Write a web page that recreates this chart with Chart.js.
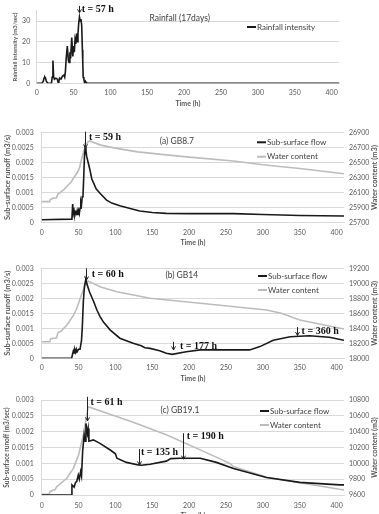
<!DOCTYPE html>
<html>
<head>
<meta charset="utf-8">
<script src="https://cdn.jsdelivr.net/npm/chart.js@4"></script>
<style>
  html, body { margin: 0; padding: 0; background: #fff; }
  body { width: 379px; height: 514px; overflow: hidden; position: relative; }
  canvas { position: absolute; left: 0; }
</style>
</head>
<body>
<canvas id="rain" width="379" height="112" style="top:0"></canvas>
<canvas id="gb87" width="379" height="136" style="top:112px"></canvas>
<canvas id="gb14" width="379" height="136" style="top:248px"></canvas>
<canvas id="gb191" width="379" height="140" style="top:382px"></canvas>
<script>
// rainfall (17 days)
const rainHours = [0, 7, 9, 10, 11, 12, 13, 15, 20, 21, 22, 23, 24, 26, 28, 29, 30, 31, 33, 35, 37, 38, 39, 40, 41.5, 43, 44, 45, 46, 47.5, 49, 50, 51, 52, 53, 54, 55, 56, 57, 58, 59, 60, 61, 62, 62.5, 63, 64, 65, 66, 67, 68, 410];
const rainIntensity = [0, 0, 1, 2.5, 3, 2.5, 1, 0, 0, 3, 11, 3, 2, 2.5, 2, 0.5, 1, 2.5, 2, 3.5, 4, 3, 6, 12, 18, 11, 10, 15, 12, 22, 13, 18, 15, 21, 19, 24, 20, 24, 29, 32, 30, 31, 28, 16, 10, 3, 2, 0, 1, 0.5, 0, 0];

// (a) GB8.7
const gb87FlowHours = [0, 40, 41, 42, 43, 44, 45, 46, 47, 48, 49, 50, 51, 52, 53, 54, 55, 56, 57, 58, 59, 60, 61, 62, 65, 68, 74, 80, 88, 95, 106, 120, 133, 150, 169, 200, 260, 300, 350, 410];
const gb87Flow = [0.0001, 0.00012, 0.00015, 0.00062, 0.0003, 0.0004, 0.00025, 0.00035, 0.0003, 0.0004, 0.00025, 0.0004, 0.0003, 0.00048, 0.0007, 0.0006, 0.00086, 0.0009, 0.0015, 0.0022, 0.0025, 0.0024, 0.0022, 0.0021, 0.0018, 0.00145, 0.00112, 0.00095, 0.00075, 0.00065, 0.00056, 0.00047, 0.00039, 0.00034, 0.00031, 0.0003, 0.0003, 0.00027, 0.00024, 0.00022];
const gb87WaterHours = [0, 10, 11, 14, 20, 22, 25, 30, 34, 40, 43, 48, 51, 54, 57, 60, 63, 65, 80, 100, 130, 169, 200, 260, 300, 350, 410];
const gb87Water = [25980, 25980, 26000, 26020, 26030, 26080, 26100, 26140, 26180, 26240, 26290, 26360, 26420, 26540, 26650, 26730, 26775, 26785, 26730, 26690, 26640, 26600, 26570, 26520, 26470, 26420, 26350];

// (b) GB14
const gb14FlowHours = [0, 40.6, 42, 43, 44, 45, 46, 47, 48, 50, 52, 54, 55, 56.5, 58, 60, 61, 65, 70, 75, 79, 84, 93, 106, 124, 135, 140, 147, 160, 169, 177, 196, 215, 282, 296, 314, 337, 363, 390, 410];
const gb14Flow = [0, 0, 0.00015, 0.00025, 0.00018, 0.00028, 0.0002, 0.0003, 0.00022, 0.0003, 0.0003, 0.0006, 0.001, 0.0019, 0.0024, 0.00265, 0.0025, 0.0022, 0.00192, 0.0016, 0.0014, 0.0012, 0.00094, 0.00067, 0.0005, 0.00042, 0.00035, 0.00033, 0.00025, 0.00017, 0.00013, 0.00022, 0.00028, 0.00028, 0.00039, 0.0006, 0.00072, 0.00075, 0.0007, 0.0006];
const gb14WaterHours = [0, 11, 12, 20, 22, 26, 34, 43, 47, 52, 56, 61, 63, 80, 102, 147, 215, 305, 325, 350, 410];
const gb14Water = [18220, 18220, 18260, 18270, 18340, 18360, 18440, 18573, 18650, 18795, 18900, 19017, 19030, 18950, 18888, 18800, 18733, 18644, 18600, 18511, 18390];

// (c) GB19.1
const gb191FlowHours = [0, 40.6, 41, 42, 44, 46, 47.4, 49.6, 51, 52.8, 54, 55.5, 57.6, 59, 60, 61, 62, 63, 64, 70, 79, 93, 100, 102, 115, 131, 135, 147, 169, 175, 188, 215, 237, 260, 305, 350, 404, 410];
const gb191Flow = [0, 0, 0.00032, 0.0003, 0.00025, 0.0004, 0.00042, 0.00063, 0.0005, 0.00074, 0.0006, 0.00137, 0.0019, 0.0017, 0.00226, 0.0021, 0.00195, 0.0021, 0.0017, 0.00174, 0.00163, 0.00142, 0.0013, 0.00116, 0.00103, 0.00095, 0.00094, 0.00097, 0.00107, 0.00115, 0.00116, 0.00116, 0.00103, 0.00084, 0.00055, 0.0004, 0.00032, 0.00032];
const gb191WaterHours = [0, 10, 11.3, 15, 18, 20.3, 25, 34, 43, 50, 56.5, 60, 63, 80, 124, 169, 215, 255, 260, 305, 350, 404, 410];
const gb191Water = [9610, 9610, 9642, 9660, 9665, 9705, 9740, 9811, 9937, 10105, 10358, 10550, 10715, 10660, 10520, 10360, 10170, 10000, 9960, 9825, 9755, 9672, 9665];

Chart.defaults.font.family = 'Lato, "Liberation Sans", sans-serif';
Chart.defaults.color = '#595959';

const ink = '#1a1a1a';
const ash = '#bcbcbc';
const gridCol = '#d9d9d9';
const noteFont = 'bold 10px "Liberation Serif", serif';
const labelFont = '8.5px Lato, "Liberation Sans", sans-serif';

const pts = (xs, ys) => xs.map((x, i) => ({ x, y: ys[i] }));
const fixW = w => s => { s.width = w; };
const fixH = h => s => { s.height = h; };

// arrows, free text and the rotated right-hand title, placed in data units
const notes = {
  id: 'notes',
  afterDraw(chart, args, opts) {
    const ctx = chart.ctx, xs = chart.scales.x, ys = chart.scales.y;
    ctx.save();
    (opts.arrows || []).forEach(a => {
      const px = Math.round(xs.getPixelForValue(a.h)) + 0.5;
      const y1 = ys.getPixelForValue(a.from), y2 = ys.getPixelForValue(a.to);
      ctx.strokeStyle = '#222';
      ctx.lineWidth = 1;
      ctx.beginPath();
      ctx.moveTo(px, y1);
      ctx.lineTo(px, y2);
      ctx.moveTo(px - 2, y2 - 3.5);
      ctx.lineTo(px, y2);
      ctx.lineTo(px + 2, y2 - 3.5);
      ctx.stroke();
    });
    (opts.labels || []).forEach(l => {
      ctx.font = l.font || noteFont;
      ctx.fillStyle = l.color || '#111';
      ctx.textAlign = l.align || 'left';
      ctx.textBaseline = 'middle';
      ctx.fillText(l.text, xs.getPixelForValue(l.h), ys.getPixelForValue(l.v));
    });
    if (opts.side) {
      const a = chart.chartArea;
      ctx.translate(opts.side.x, (a.top + a.bottom) / 2);
      ctx.rotate(-Math.PI / 2);
      ctx.font = 'bold ' + opts.side.size + 'px Lato, "Liberation Sans", sans-serif';
      ctx.fillStyle = '#595959';
      ctx.textAlign = 'center';
      ctx.textBaseline = 'middle';
      ctx.fillText(opts.side.text, 0, 0);
    }
    ctx.restore();
  }
};

// Excel-like legend: short line then label
const lineKey = {
  id: 'lineKey',
  afterDraw(chart, args, opts) {
    if (opts.x === undefined) return;
    const ctx = chart.ctx;
    ctx.save();
    chart.data.datasets.forEach((ds, i) => {
      const y = opts.y + i * (opts.gap || 0);
      ctx.strokeStyle = ds.borderColor;
      ctx.lineWidth = 2;
      ctx.beginPath();
      ctx.moveTo(opts.x, y);
      ctx.lineTo(opts.x + 9, y);
      ctx.stroke();
      ctx.font = '8px Lato, "Liberation Sans", sans-serif';
      ctx.fillStyle = '#404040';
      ctx.textBaseline = 'middle';
      ctx.fillText(ds.label, opts.x + 10, y);
    });
    ctx.restore();
  }
};

Chart.register(notes, lineKey);

function timeAxis(height, tickPad, titlePad) {
  return {
    type: 'linear', min: 0, max: 410,
    ticks: { stepSize: 50, includeBounds: false, padding: tickPad, font: { size: 7 }, maxRotation: 0, callback: v => String(v) },
    grid: { display: false, drawTicks: false },
    border: { display: true, color: gridCol },
    title: { display: true, text: 'Time (h)', font: { size: 7, weight: 'bold' }, padding: { top: 0, bottom: titlePad } },
    afterFit: fixH(height)
  };
}

function flowAxis(width, title, titleSize, titlePad) {
  return {
    position: 'left', min: 0, max: 0.003,
    ticks: { stepSize: 0.0005, padding: 8, font: { size: 7 }, callback: v => String(+v.toFixed(4)) },
    grid: { color: gridCol, drawTicks: false },
    border: { color: gridCol },
    title: { display: true, text: title, font: { size: titleSize, weight: 'bold' }, padding: { top: titlePad, bottom: 0 } },
    afterFit: fixW(width)
  };
}

function waterAxis(min, max) {
  return {
    position: 'right', min, max,
    ticks: { stepSize: 200, padding: 5, font: { size: 7 }, callback: v => String(v) },
    grid: { display: false, drawTicks: false },
    border: { display: false },
    afterFit: fixW(35)
  };
}

function flowChart(id, padTop, flowData, waterData, xAxis, yAxis, yRight, noteOpts, keyOpts) {
  return new Chart(document.getElementById(id), {
    type: 'line',
    data: {
      datasets: [
        { label: 'Sub-surface flow', data: flowData, borderColor: ink, borderWidth: 1.6, pointRadius: 0, yAxisID: 'y' },
        { label: 'Water content', data: waterData, borderColor: ash, borderWidth: 1.6, pointRadius: 0, yAxisID: 'y2' }
      ]
    },
    options: {
      responsive: false,
      animation: false,
      layout: { padding: { top: padTop, left: 0, right: 0, bottom: 0 } },
      plugins: { legend: { display: false }, tooltip: { enabled: false }, notes: noteOpts, lineKey: keyOpts },
      scales: { x: xAxis, y: yAxis, y2: yRight }
    }
  });
}

new Chart(document.getElementById('rain'), {
  type: 'line',
  data: {
    datasets: [{ label: 'Rainfall intensity', data: pts(rainHours, rainIntensity), borderColor: ink, borderWidth: 1.6, pointRadius: 0 }]
  },
  options: {
    responsive: false,
    animation: false,
    layout: { padding: { top: 8.3, left: 0, right: 40, bottom: 0 } },
    plugins: {
      legend: { display: false }, tooltip: { enabled: false },
      notes: {
        arrows: [{ h: 57.4, from: 37.3, to: 34 }],
        labels: [
          { h: 61, v: 35.7, text: 't = 57 h' },
          { h: 194, v: 31.4, text: 'Rainfall (17days)', font: labelFont, color: '#404040', align: 'center' }
        ]
      },
      lineKey: { x: 247, y: 27 }
    },
    scales: {
      x: timeAxis(28.7, 5.5, 3.8),
      y: {
        min: 0, max: 35,
        ticks: { stepSize: 5, padding: 6.5, font: { size: 7 } },
        grid: { color: gridCol, drawTicks: false },
        border: { color: gridCol },
        title: { display: true, text: 'Rainfall intensity (m3/sec)', font: { size: 6, weight: 'bold' }, padding: { top: 11.5, bottom: 0 } },
        afterFit: fixW(36.7)
      }
    }
  }
});

flowChart('gb87', 20.3,
  pts(gb87FlowHours, gb87Flow), pts(gb87WaterHours, gb87Water),
  timeAxis(25.3, 6, 0.8),
  flowAxis(41.7, 'Sub-surface runoff (m3/s)', 7.5, 2.8),
  waterAxis(25700, 26900),
  {
    arrows: [{ h: 58.7, from: 0.00302, to: 0.00248 }],
    labels: [
      { h: 64, v: 0.00284, text: 't = 59 h' },
      { h: 183.4, v: 0.00271, text: '(a) GB8.7', font: labelFont, color: '#404040', align: 'center' }
    ],
    side: { x: 375, size: 7.5, text: 'Water content (m3)' }
  },
  { x: 257, y: 30.3, gap: 14.4 });

flowChart('gb14', 20.3,
  pts(gb14FlowHours, gb14Flow), pts(gb14WaterHours, gb14Water),
  timeAxis(25.7, 5.5, 0.8),
  flowAxis(41.7, 'Sub-surface runoff (m3/s)', 7.5, 2.8),
  waterAxis(18000, 19200),
  {
    arrows: [
      { h: 60, from: 0.003, to: 0.00261 },
      { h: 178.4, from: 0.00055, to: 0.00028 },
      { h: 345.8, from: 0.00104, to: 0.00076 }
    ],
    labels: [
      { h: 67.8, v: 0.00278, text: 't = 60 h' },
      { h: 187.5, v: 0.00039, text: 't = 177 h' },
      { h: 352.5, v: 0.00089, text: 't = 360 h' },
      { h: 190, v: 0.00278, text: '(b) GB14', font: labelFont, color: '#404040', align: 'center' }
    ],
    side: { x: 375, size: 7.5, text: 'Water content (m3)' }
  },
  { x: 258, y: 28, gap: 14 });

flowChart('gb191', 18,
  pts(gb191FlowHours, gb191Flow), pts(gb191WaterHours, gb191Water),
  timeAxis(27, 6.3, 2.3),
  flowAxis(41.7, 'Sub-surface runoff (m3/sec)', 6.5, 3.4),
  waterAxis(9600, 10800),
  {
    arrows: [
      { h: 61, from: 0.0031, to: 0.00234 },
      { h: 132, from: 0.00145, to: 0.00095 },
      { h: 192, from: 0.00195, to: 0.00113 }
    ],
    labels: [
      { h: 66.2, v: 0.00292, text: 't = 61 h' },
      { h: 134.6, v: 0.00135, text: 't = 135 h' },
      { h: 196.6, v: 0.00184, text: 't = 190 h' },
      { h: 187.5, v: 0.00268, text: '(c) GB19.1', font: labelFont, color: '#404040', align: 'center' }
    ],
    side: { x: 375, size: 7, text: 'Water content (m3)' }
  },
  { x: 260, y: 29, gap: 14 });
</script>
</body>
</html>
